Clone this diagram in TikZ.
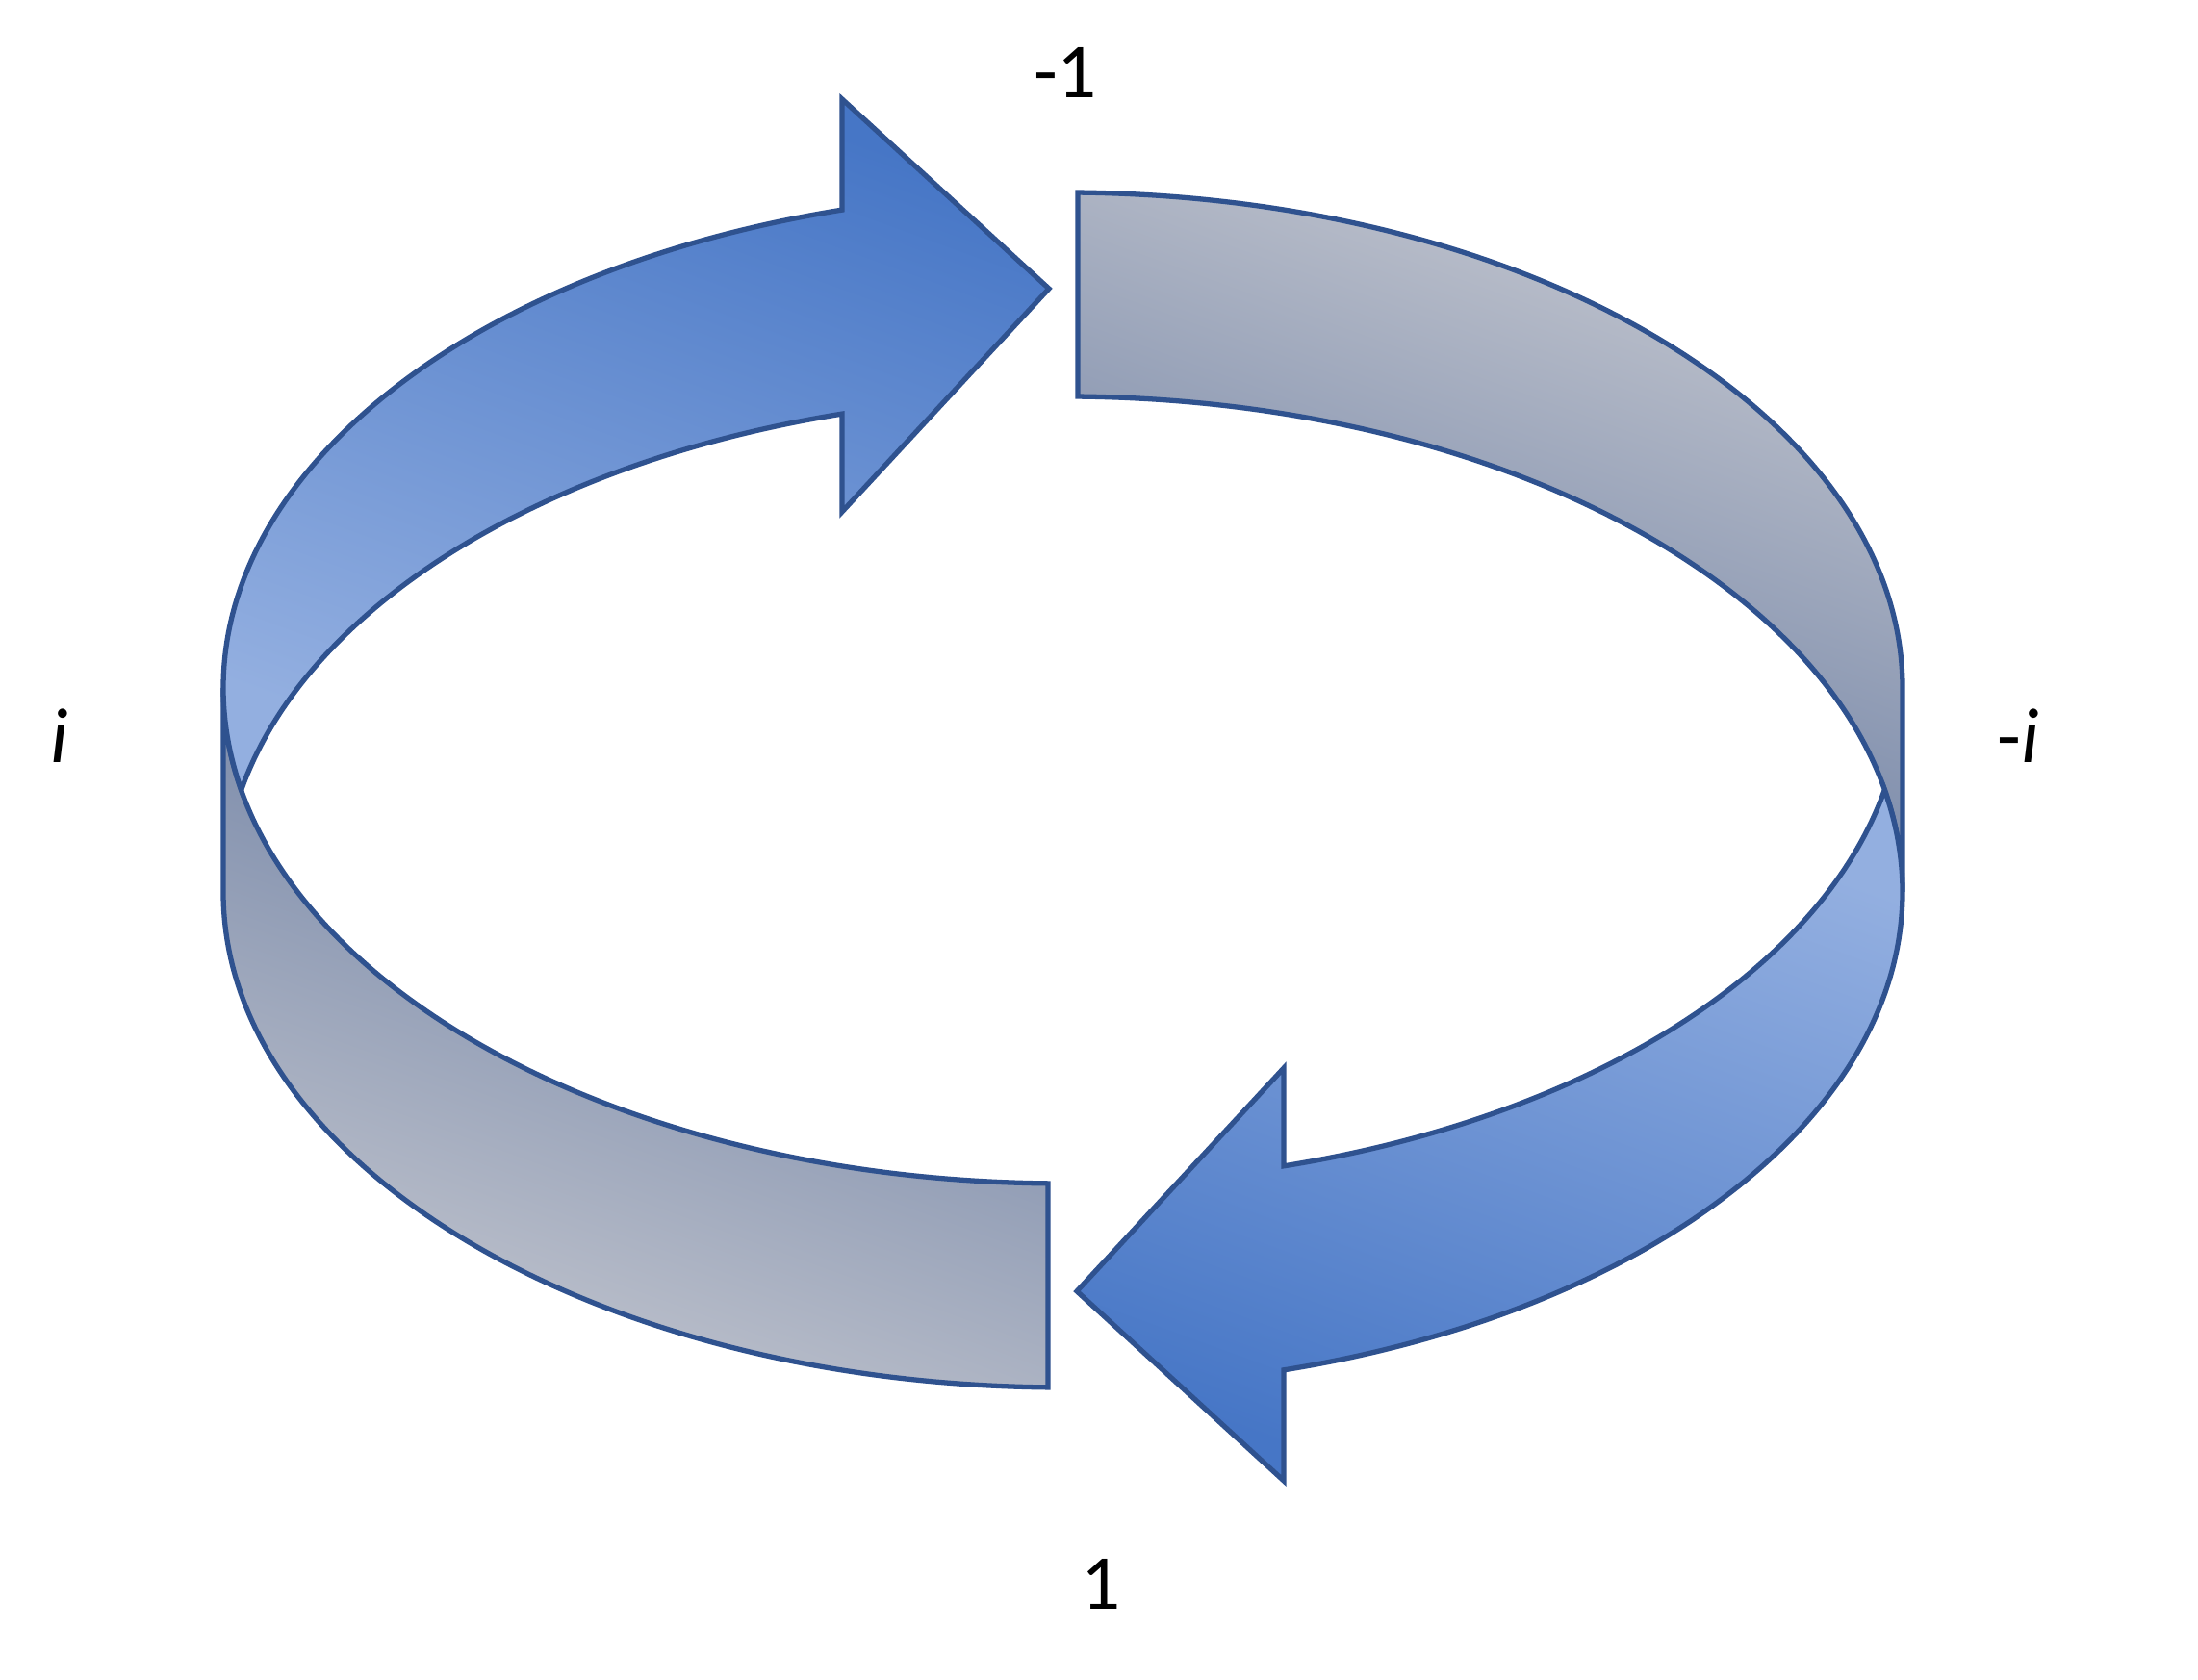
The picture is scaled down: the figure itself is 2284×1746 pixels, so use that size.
\documentclass[tikz,border=0pt]{standalone}
\usepackage{fontspec}
\setmainfont{Carlito}
\usetikzlibrary{calc}

\definecolor{rimblue}{HTML}{2F528F}
\definecolor{arrowdark}{HTML}{4676C6}
\definecolor{arrowlight}{HTML}{93AFE0}
\definecolor{banddark}{HTML}{64789F}
\definecolor{bandlight}{HTML}{C2C5CE}

\begin{document}
\begin{tikzpicture}[x=0.01cm, y=0.01cm,
  rim/.style={draw=rimblue, line width=1.5pt, line join=miter},
  lbl/.style={font=\fontsize{23}{28}\selectfont, inner sep=0pt, anchor=base}]
  \useasboundingbox (0,0) rectangle (2284,1746);

  % Centres of the upper and lower ellipse of the ribbon
  \coordinate (upc) at (1104.5,1031);
  \coordinate (loc) at (1104.5,819);

  % Grey band, top right
  \path[rim, top color=bandlight, bottom color=banddark, shading angle=-20]
    ([shift={(upc)}]88.98:872.5 and 515)
    arc[start angle=88.98, end angle=0, x radius=872.5, y radius=515]
    -- ([shift={(loc)}]0:872.5 and 515)
    arc[start angle=0, end angle=88.98, x radius=872.5, y radius=515]
    -- cycle;

  % Grey band, bottom left
  \path[rim, top color=banddark, bottom color=bandlight, shading angle=-20]
    ([shift={(upc)}]180:872.5 and 515)
    -- ([shift={(loc)}]180:872.5 and 515)
    arc[start angle=180, end angle=268.98, x radius=872.5, y radius=515]
    -- ([shift={(upc)}]268.98:872.5 and 515)
    arc[start angle=268.98, end angle=180, x radius=872.5, y radius=515]
    -- cycle;

  % Blue arrow, top left
  \path[rim, top color=arrowdark, bottom color=arrowlight, shading angle=-20]
    ([shift={(upc)}]180:872.5 and 515)
    arc[start angle=180, end angle=105.25, x radius=872.5, y radius=515]
    -- (875,1643) -- (1090,1446) -- (875,1214)
    -- ([shift={(loc)}]105.25:872.5 and 515)
    arc[start angle=105.25, end angle=168.12, x radius=872.5, y radius=515]
    arc[start angle=191.88, end angle=180, x radius=872.5, y radius=515]
    -- cycle;

  % Blue arrow, bottom right
  \path[rim, top color=arrowlight, bottom color=arrowdark, shading angle=-20]
    ([shift={(loc)}]0:872.5 and 515)
    arc[start angle=360, end angle=285.25, x radius=872.5, y radius=515]
    -- (1334,207) -- (1119,404) -- (1334,636)
    -- ([shift={(upc)}]285.25:872.5 and 515)
    arc[start angle=285.25, end angle=348.12, x radius=872.5, y radius=515]
    arc[start angle=11.88, end angle=0, x radius=872.5, y radius=515]
    -- cycle;

  % Labels
  \node[lbl] (minusone) at (1107,1644) {-1};
  \node[lbl] (plusi) at (62,953) {\textit{i}};
  \node[lbl] (minusi) at (2097,953) {-\textit{i}};
  \node[lbl] (plusone) at (1144,73) {1};
\end{tikzpicture}
\end{document}
